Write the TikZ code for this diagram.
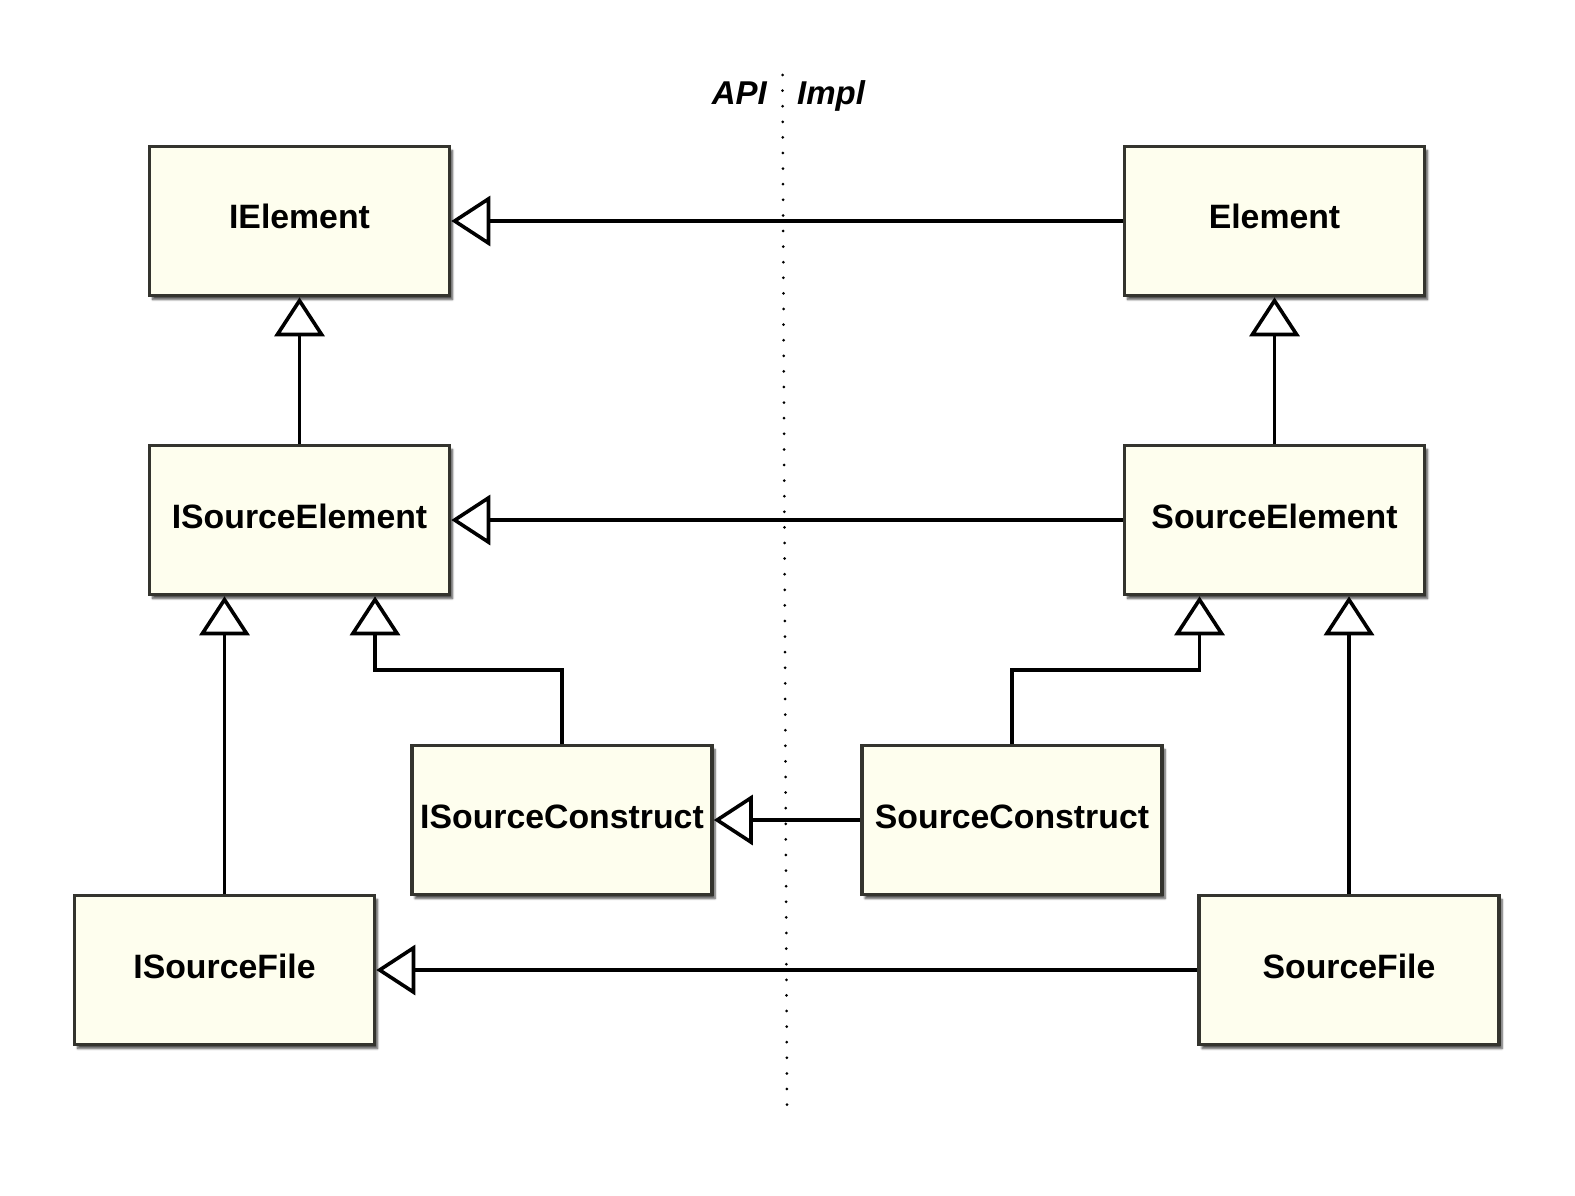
\documentclass[tikz,border=0pt]{standalone}
\usepackage{fontspec}
\setmainfont{Liberation Sans}
\usetikzlibrary{arrows.meta,shadows.blur}
\definecolor{boxfill}{RGB}{254,254,238}
\definecolor{boxline}{RGB}{52,52,46}
\tikzset{
  cls/.style={draw=boxline, line width=3.6pt, fill=boxfill, minimum width=300pt, minimum height=149pt,
    inner sep=0pt, text height=24pt, text depth=8pt, font=\fontsize{33.8}{40}\selectfont\bfseries,
    blur shadow={shadow xshift=3pt, shadow yshift=-4pt, shadow blur steps=6, shadow opacity=70}},
  inh/.style={line width=3.6pt, -{Triangle[open, length=39pt, width=50pt]}},
  sidelabel/.style={font=\fontsize{33}{40}\selectfont\bfseries\itshape, inner sep=0pt},
  divider/.style={line width=3pt, line cap=round, dash pattern=on 0pt off 15.6pt}
}
\begin{document}
\begin{tikzpicture}[x=1pt,y=-1pt]
\useasboundingbox (0,0) rectangle (1575,1196);
\draw[divider] (782.5,75) -- (787,1105);
\node[sidelabel, anchor=base east] (api) at (767,105) {API};
\node[sidelabel, anchor=base west] (impl) at (797,105) {Impl};

\node[cls] (IElement) at (299.5,221) {IElement};
\node[cls] (Element) at (1274.5,221) {Element};
\node[cls] (ISourceElement) at (299.5,520) {ISourceElement};
\node[cls] (SourceElement) at (1274.5,520) {SourceElement};
\node[cls] (ISourceConstruct) at (562,820) {ISourceConstruct};
\node[cls] (SourceConstruct) at (1012,820) {SourceConstruct};
\node[cls] (ISourceFile) at (224.5,970) {ISourceFile};
\node[cls] (SourceFile) at (1349,970) {SourceFile};

\coordinate (bl) at (375,670);
\coordinate (br) at (1199.5,670);

\draw[inh] (Element.west) -- (IElement.east);
\draw[inh] (SourceElement.west) -- (ISourceElement.east);
\draw[inh] (SourceConstruct.west) -- (ISourceConstruct.east);
\draw[inh] (SourceFile.west) -- (ISourceFile.east);
\draw[inh] (ISourceElement.north) -- (IElement.south);
\draw[inh] (SourceElement.north) -- (Element.south);
\draw[inh] (ISourceFile.north) -- (ISourceFile.north |- ISourceElement.south);
\draw[inh] (SourceFile.north) -- (SourceFile.north |- SourceElement.south);
\draw[inh] (ISourceConstruct.north) |- (bl) -- (ISourceElement.south -| bl);
\draw[inh] (SourceConstruct.north) |- (br) -- (SourceElement.south -| br);
\end{tikzpicture}
\end{document}
